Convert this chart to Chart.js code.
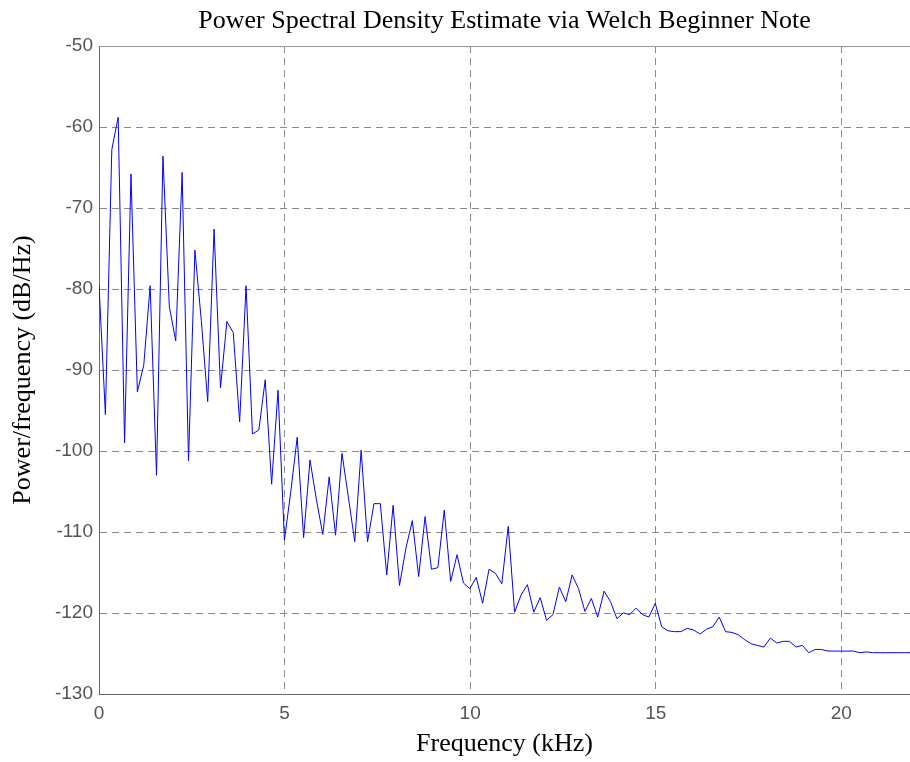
<!DOCTYPE html>
<html>
<head>
<meta charset="utf-8">
<script src="https://cdn.jsdelivr.net/npm/chart.js@4.4.1/dist/chart.umd.min.js"></script>
<style>
    html, body { margin: 0; padding: 0; background: #fff; }
    canvas { display: block; }
</style>
</head>
<body>
<canvas id="psdChart" width="910" height="762"></canvas>
<script>
// Welch PSD estimate, 256-point FFT at 44.1 kHz (one value per bin, dB/Hz)
const sampleRateKHz = 44.1;
const nfft = 256;

const psdDb = [
    -79.5, -95.5, -62.8, -58.8, -99.0, -65.8, -92.7, -89.4, -79.6, -103.0,
    -63.6, -82.2, -86.4, -65.6, -101.2, -75.2, -83.9, -93.9, -72.6, -92.2,
    -84.0, -85.4, -96.4, -79.6, -97.9, -97.4, -91.2, -104.1, -92.5, -111.0,
    -105.0, -98.3, -110.7, -101.1, -106.0, -110.3, -103.2, -110.4, -100.3, -105.7,
    -111.2, -99.9, -111.2, -106.5, -106.5, -115.3, -106.7, -116.6, -112.0, -108.6,
    -115.5, -108.1, -114.6, -114.4, -107.3, -116.1, -112.8, -116.3, -117.0, -115.6,
    -118.8, -114.6, -115.1, -116.4, -109.3, -119.9, -117.8, -116.5, -119.9, -118.1,
    -120.9, -120.2, -116.8, -118.6, -115.3, -117.0, -119.8, -118.2, -120.5, -117.3,
    -118.6, -120.7, -120.0, -120.2, -119.4, -120.2, -120.5, -118.8, -121.7, -122.2,
    -122.3, -122.3, -121.9, -122.1, -122.6, -122.0, -121.7, -120.5, -122.3, -122.4,
    -122.7, -123.3, -123.8, -124.0, -124.2, -123.1, -123.7, -123.5, -123.5, -124.2,
    -124.0, -124.9, -124.5, -124.5, -124.7, -124.7, -124.7, -124.7, -124.7, -124.9,
    -124.8, -124.9, -124.9, -124.9, -124.9, -124.9, -124.9, -124.9, -124.9
];

const xTicks = [0, 5, 10, 15, 20];
const yTicks = [-130, -120, -110, -100, -90, -80, -70, -60, -50];

const freqKHz = psdDb.map((_, i) => i * sampleRateKHz / nfft);
const points = psdDb.map((v, i) => ({ x: freqKHz[i], y: v }));

const tickFont = { family: "'Liberation Sans', Arial, sans-serif", size: 19 };
const serifFont = { family: "'Liberation Serif', 'Times New Roman', serif", size: 26, weight: "normal" };
const gridGray = "#8a8a8a";
const axisGray = "#6a6a6a";

new Chart(document.getElementById("psdChart"), {
    type: "line",
    data: {
        datasets: [{
            data: points,
            borderColor: "#0000ff",
            borderWidth: 1,
            pointRadius: 0,
            tension: 0,
            fill: false
        }]
    },
    options: {
        responsive: false,
        animation: false,
        devicePixelRatio: 1,
        layout: { padding: 0 },
        plugins: {
            legend: { display: false },
            tooltip: { enabled: false },
            title: {
                display: true,
                fullSize: false,
                text: "Power Spectral Density Estimate via Welch Beginner Note",
                color: "#000",
                font: serifFont,
                padding: { top: 6, bottom: 8.8 }
            }
        },
        scales: {
            x: {
                type: "linear",
                min: 0,
                max: 21.85,
                afterBuildTicks: (scale) => {
                    scale.ticks = xTicks.map(v => ({ value: v }));
                },
                afterFit: (scale) => { scale.height = 68; },
                ticks: { color: "#555", font: tickFont, padding: 8, maxRotation: 0 },
                grid: { color: gridGray, lineWidth: 1, drawTicks: false },
                border: { color: axisGray, width: 1, dash: [7, 5] },
                title: {
                    display: true,
                    text: "Frequency (kHz)",
                    color: "#000",
                    font: serifFont,
                    padding: { top: 0, bottom: 2 }
                }
            },
            xTop: {
                type: "linear",
                position: "top",
                min: 0,
                max: 21.85,
                afterFit: (scale) => { scale.height = 0; },
                ticks: { display: false },
                grid: { display: false, drawTicks: false },
                border: { color: "#9a9a9a", width: 1 }
            },
            y: {
                min: -130,
                max: -50,
                afterBuildTicks: (scale) => {
                    scale.ticks = yTicks.map(v => ({ value: v }));
                },
                afterFit: (scale) => { scale.width = 99; },
                ticks: { color: "#555", font: tickFont, padding: 6 },
                grid: { color: gridGray, lineWidth: 1, drawTicks: false },
                border: { color: axisGray, width: 1, dash: [7, 5] },
                title: {
                    display: true,
                    text: "Power/frequency (dB/Hz)",
                    color: "#000",
                    font: serifFont,
                    padding: { top: 8, bottom: 0 }
                }
            }
        }
    }
});
</script>
</body>
</html>
